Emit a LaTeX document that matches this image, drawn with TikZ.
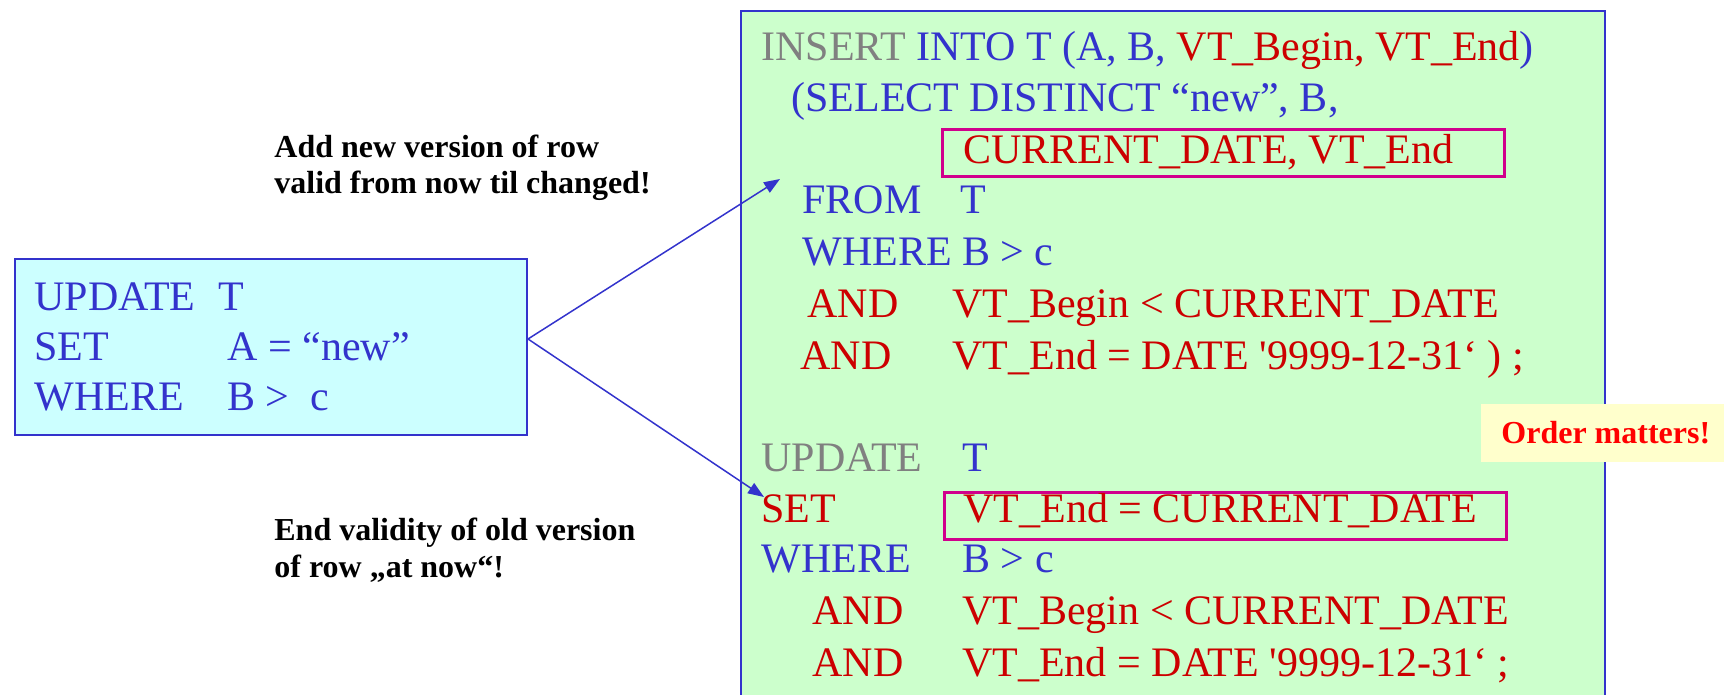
\documentclass[tikz,border=0pt]{standalone}
\usepackage{fontspec}
\setmainfont{Liberation Serif}
\newfontfamily\codefont{Liberation Serif}
\usetikzlibrary{arrows.meta}
\definecolor{cblue}{RGB}{51,51,204}
\definecolor{cred}{RGB}{204,0,0}
\definecolor{cgrey}{RGB}{128,128,128}
\definecolor{cpink}{RGB}{208,0,140}
\definecolor{cgreen}{RGB}{204,255,204}
\definecolor{ccyan}{RGB}{204,255,255}
\definecolor{cyellow}{RGB}{255,255,204}
\definecolor{cbright}{RGB}{255,0,0}
\newdimen\pxu \pxu=0.5pt
\newcommand\col[2]{\makebox[#1\pxu][l]{#2}}
\begin{document}
\begin{tikzpicture}[x=0.5pt,y=-0.5pt,
  code/.style={anchor=base west, inner sep=0pt, font=\codefont\fontsize{21}{25}\selectfont, text=cblue},
  note/.style={anchor=base west, inner sep=0pt, font=\codefont\bfseries\fontsize{16}{19}\selectfont, text=black},
  panel/.style={draw=cblue, line width=1pt, anchor=north west, inner sep=0pt},
  hilite/.style={draw=cpink, line width=1.5pt, anchor=north west, inner sep=0pt, minimum width=281pt, minimum height=23.5pt},
  link/.style={draw=cblue, line width=0.75pt, -{Triangle[length=8pt,width=6pt]}}
]
\useasboundingbox (0,0) rectangle (1724,695);
\clip (0,0) rectangle (1724,695);

% panels
\node[panel, fill=cgreen, minimum width=432pt, minimum height=350pt] (green) at (740,10) {};
\node[panel, fill=ccyan, minimum width=256pt, minimum height=88pt] (cyan) at (14,258) {};
\node[hilite] (hl1) at (941,128) {};
\node[hilite] (hl2) at (943,491) {};

% left statement
\node[code] (c1) at (34,310) {\col{184}{UPDATE}T};
\node[code] (c2) at (34,360) {\col{193}{SET}A = “new”};
\node[code] (c3) at (34,410) {\col{193}{WHERE}B > ~c};

% insert statement
\node[code] (g1) at (761,61) {\textcolor{cgrey}{INSERT} INTO T (A, B, \textcolor{cred}{VT\_Begin, VT\_End})};
\node[code] (g2) at (791,112) {(SELECT DISTINCT “new”, B,};
\node[code, text=cred] (g3) at (963,164) {CURRENT\_DATE, VT\_End};
\node[code] (g4) at (802,214) {\col{158}{FROM}T};
\node[code] (g5) at (802,266) {WHERE B > c};
\node[code, text=cred] (g6) at (807,317) {\col{145}{AND}VT\_Begin < CURRENT\_DATE};
\node[code, text=cred] (g7) at (800,369) {\col{152}{AND}VT\_End = DATE '9999-12-31‘ ) ;};

% update statement
\node[code] (g8) at (761,471) {\col{201}{\textcolor{cgrey}{UPDATE}}T};
\node[code, text=cred] (g9) at (761,522) {\col{202}{SET}VT\_End = CURRENT\_DATE};
\node[code] (g10) at (761,572) {\col{201}{WHERE}B > c};
\node[code, text=cred] (g11) at (812,624) {\col{150}{AND}VT\_Begin < CURRENT\_DATE};
\node[code, text=cred] (g12) at (812,676) {\col{150}{AND}VT\_End = DATE '9999-12-31‘ ;};

% notes
\node[note] (n1) at (274,158) {Add new version of row};
\node[note] (n2) at (274,194) {valid from now til changed!};
\node[note] (n3) at (274,540) {End validity of old version};
\node[note] (n4) at (274,577) {of row „at now“!};

\node[fill=cyellow, anchor=west, inner xsep=10pt, inner ysep=0pt, minimum height=29pt,
      font=\codefont\bfseries\fontsize{16}{19}\selectfont, text=cbright] (order) at (1481,433) {Order matters!};

% connectors
\coordinate (src) at (528,339);
\coordinate (tip1) at (780,179);
\coordinate (tip2) at (764,497);
\draw[link] (src) -- (tip1);
\draw[link] (src) -- (tip2);
\end{tikzpicture}
\end{document}
